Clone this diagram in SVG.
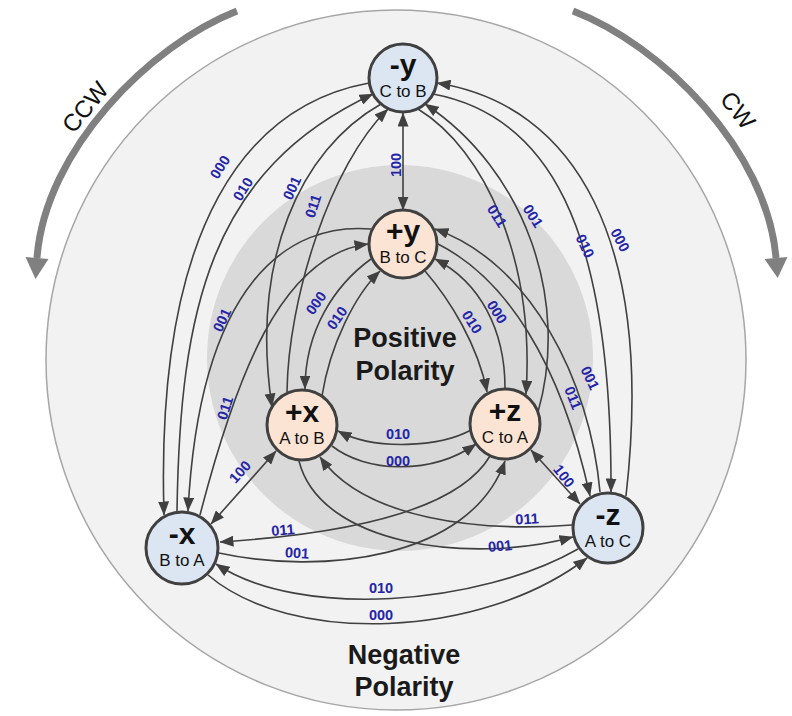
<svg xmlns="http://www.w3.org/2000/svg" width="792" height="716" viewBox="0 0 792 716">
<style>
.node{stroke:#404040;stroke-width:3}
.neg{fill:#dbe6f2}
.pos{fill:#fce4d4}
.big{font-family:"Liberation Sans",Arial,sans-serif;font-weight:bold;font-size:30px;fill:#111;text-anchor:middle}
.sub{font-family:"Liberation Sans",Arial,sans-serif;font-size:17px;fill:#111;text-anchor:middle}
.pol{font-family:"Liberation Sans",Arial,sans-serif;font-weight:bold;font-size:27px;fill:#1a1a1a;text-anchor:middle}
.dir{font-family:"Liberation Sans",Arial,sans-serif;font-size:24px;fill:#111;text-anchor:middle;dominant-baseline:central}
.lbl{font-family:"Liberation Sans",Arial,sans-serif;font-weight:bold;font-size:14.5px;fill:#2424a8;text-anchor:middle;dominant-baseline:central}
.edge{fill:none;stroke:#404040;stroke-width:1.6;marker-end:url(#ah)}
.dbl{marker-start:url(#ah)}
.rot{fill:none;stroke:#808080;stroke-width:7}
</style>
<defs>
<marker id="ah" viewBox="0 0 14 11" refX="13.5" refY="5.5" markerWidth="14" markerHeight="11" markerUnits="userSpaceOnUse" orient="auto-start-reverse">
<path d="M0,0 L14,5.5 L0,11 z" fill="#404040"/>
</marker>
</defs>
<rect width="792" height="716" fill="#ffffff"/>
<g id="background">
<circle cx="396" cy="360" r="350" fill="#f2f2f2" stroke="#a6a6a6" stroke-width="1.5"/>
<circle cx="400" cy="358" r="193" fill="#d9d9d9"/>
</g>
<g id="rotation">
<path class="rot" d="M237,11 C150,45 45,150 37,258"/>
<polygon points="25.5,257 48.5,259 35.5,279" fill="#808080"/>
<path class="rot" d="M573,11 C662,45 767,150 776,258"/>
<polygon points="764.5,259 787.5,257 777.7,278" fill="#808080"/>
<text class="dir" transform="translate(85,107) rotate(-51)">CCW</text>
<text class="dir" transform="translate(738,110) rotate(52)">CW</text>
</g>
<g id="connectors">
<path class="edge dbl" d="M403,113 L403,210"/>
<path class="edge dbl" d="M276,451 L211,524"/>
<path class="edge dbl" d="M531,450 L580,504"/>
<path class="edge" d="M369,83 C250,105 155,220 164,515"/>
<path class="edge" d="M177,511 C180,310 210,170 373,94"/>
<path class="edge" d="M626,496 C655,240 575,105 437,83"/>
<path class="edge" d="M433,94 C545,115 612,220 611,492"/>
<path class="edge" d="M578,549 C480,605 300,620 216,564"/>
<path class="edge" d="M208,575 C290,645 480,640 587,558"/>
<path class="edge" d="M371,259 C335,285 305,330 305,389"/>
<path class="edge" d="M322,396 C330,345 355,295 380,271"/>
<path class="edge" d="M425,271 C450,300 478,345 487,392"/>
<path class="edge" d="M505,388 C505,330 480,282 435,259"/>
<path class="edge" d="M471,430 C440,447 375,451 338,431"/>
<path class="edge" d="M332,446 C365,472 430,476 476,444"/>
<path class="edge" d="M381,104 C300,150 250,260 272,407"/>
<path class="edge" d="M287,392 C288,300 330,165 388,109"/>
<path class="edge" d="M418,109 C485,150 535,260 526,394"/>
<path class="edge" d="M538,412 C570,300 525,170 425,104"/>
<path class="edge" d="M371,229 C290,222 200,280 188,511"/>
<path class="edge" d="M200,515 C235,380 280,255 368,244"/>
<path class="edge" d="M600,492 C590,380 530,262 435,229"/>
<path class="edge" d="M438,244 C505,278 560,360 590,496"/>
<path class="edge" d="M490,456 C455,515 330,535 220,542"/>
<path class="edge" d="M219,553 C320,575 470,560 505,461"/>
<path class="edge" d="M299,461 C320,545 470,565 573,537"/>
<path class="edge" d="M572,525 C480,532 365,520 320,457"/>
</g>
<g id="edge-labels">
<text class="lbl" transform="translate(396,165) rotate(-90)">100</text>
<text class="lbl" transform="translate(240,472) rotate(-48)">100</text>
<text class="lbl" transform="translate(564,476) rotate(52)">100</text>
<text class="lbl" transform="translate(220,167) rotate(-58)">000</text>
<text class="lbl" transform="translate(243,189) rotate(-58)">010</text>
<text class="lbl" transform="translate(292,188) rotate(-65)">001</text>
<text class="lbl" transform="translate(313,206) rotate(-72)">011</text>
<text class="lbl" transform="translate(497,216) rotate(58)">011</text>
<text class="lbl" transform="translate(533,216) rotate(58)">001</text>
<text class="lbl" transform="translate(585,246) rotate(65)">010</text>
<text class="lbl" transform="translate(620,240) rotate(62)">000</text>
<text class="lbl" transform="translate(222,320) rotate(-65)">001</text>
<text class="lbl" transform="translate(225,408) rotate(-72)">011</text>
<text class="lbl" transform="translate(316,303) rotate(-55)">000</text>
<text class="lbl" transform="translate(337,318) rotate(-55)">010</text>
<text class="lbl" transform="translate(472,322) rotate(58)">010</text>
<text class="lbl" transform="translate(497,312) rotate(58)">000</text>
<text class="lbl" transform="translate(590,378) rotate(65)">001</text>
<text class="lbl" transform="translate(573,398) rotate(68)">011</text>
<text class="lbl" x="398" y="434">010</text>
<text class="lbl" x="398" y="461">000</text>
<text class="lbl" transform="translate(283,530) rotate(-5)">011</text>
<text class="lbl" transform="translate(297,553) rotate(3)">001</text>
<text class="lbl" transform="translate(527,519) rotate(-3)">011</text>
<text class="lbl" transform="translate(500,546) rotate(-5)">001</text>
<text class="lbl" x="381" y="588">010</text>
<text class="lbl" x="381" y="615">000</text>
</g>
<g id="node-neg-y">
<circle class="node neg" cx="403" cy="78" r="34"/>
<text class="big" x="403" y="75">-y</text>
<text class="sub" x="403" y="97">C to B</text>
</g>
<g id="node-pos-y">
<circle class="node pos" cx="403" cy="244" r="34"/>
<text class="big" x="403" y="241">+y</text>
<text class="sub" x="403" y="263">B to C</text>
</g>
<g id="node-pos-x">
<circle class="node pos" cx="302" cy="425" r="35"/>
<text class="big" x="302" y="422">+x</text>
<text class="sub" x="302" y="444">A to B</text>
</g>
<g id="node-pos-z">
<circle class="node pos" cx="505" cy="424" r="35"/>
<text class="big" x="505" y="421">+z</text>
<text class="sub" x="505" y="443">C to A</text>
</g>
<g id="node-neg-x">
<circle class="node neg" cx="182" cy="548" r="36"/>
<text class="big" x="182" y="544">-x</text>
<text class="sub" x="182" y="566">B to A</text>
</g>
<g id="node-neg-z">
<circle class="node neg" cx="608" cy="528" r="35"/>
<text class="big" x="608" y="525">-z</text>
<text class="sub" x="608" y="547">A to C</text>
</g>
<g id="polarity">
<text class="pol" x="405" y="347">Positive</text>
<text class="pol" x="405" y="380">Polarity</text>
<text class="pol" x="404" y="664">Negative</text>
<text class="pol" x="404" y="696">Polarity</text>
</g>
</svg>
